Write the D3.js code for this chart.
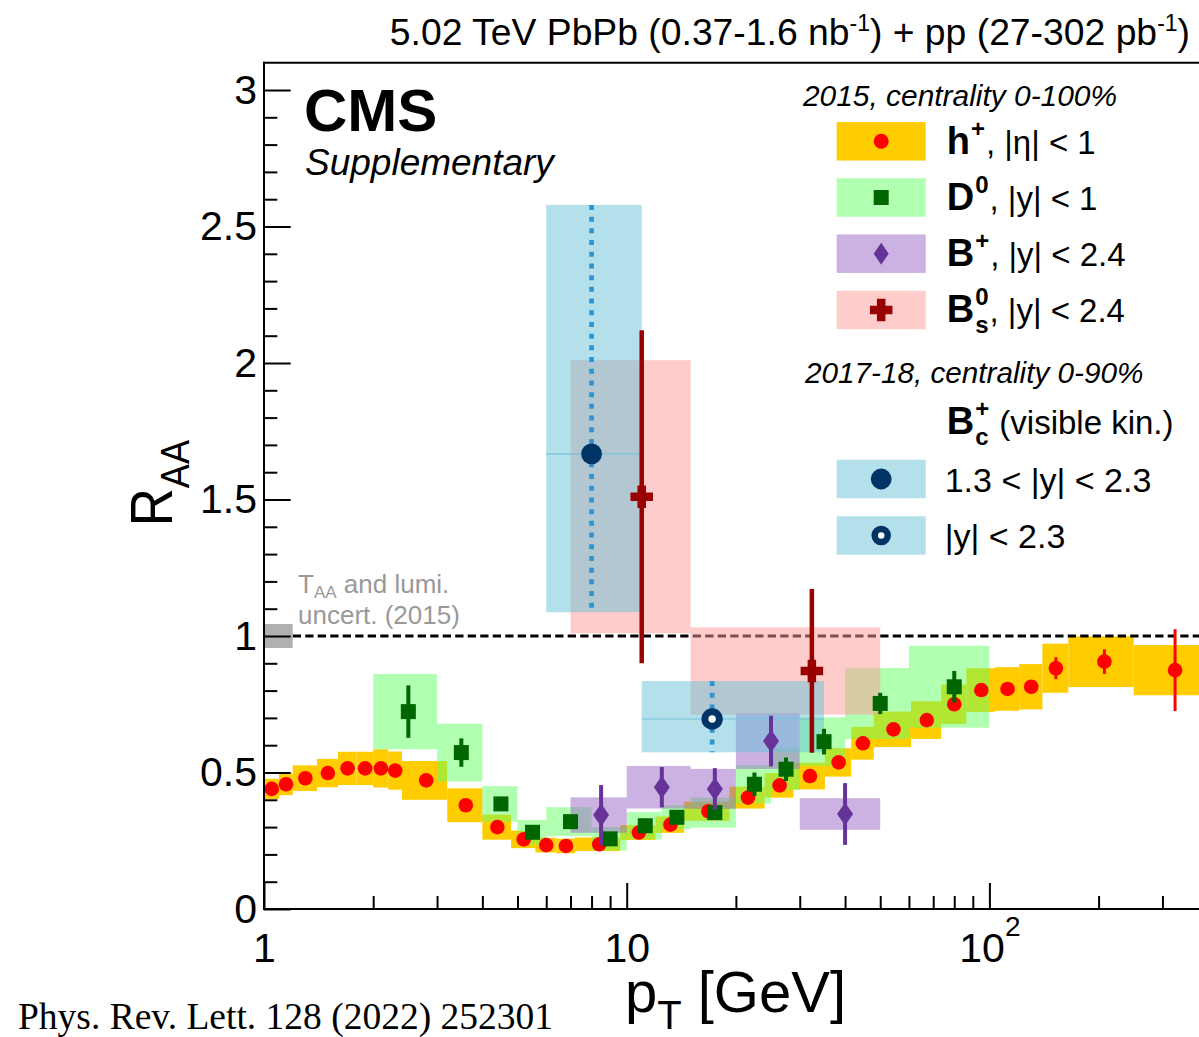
<!DOCTYPE html>
<html>
<head>
<meta charset="utf-8">
<script src="https://cdn.jsdelivr.net/npm/d3@7"></script>
<style>
  html, body { margin: 0; padding: 0; background: #fff; }
  svg { display: block; font-family: "Liberation Sans", Arial, Helvetica, sans-serif; }
  text { white-space: pre; }
</style>
</head>
<body>
<svg id="chart" width="1199" height="1037"></svg>
<script>
// ---------------- data ----------------
// Charged hadrons h+, |eta| < 1 (2015, 0-100%)
const hBinLo = [1.0, 1.1, 1.2, 1.4, 1.6, 1.8, 2.0, 2.2, 2.4, 3.2, 4.0, 4.8, 5.6, 6.4, 7.2, 9.6, 12, 14.4, 19.2, 24, 28.8, 35.2, 41.6, 48, 60.8, 73.6, 86.4, 103.6, 120.8, 140, 165, 250];
const hBinHi = [1.1, 1.2, 1.4, 1.6, 1.8, 2.0, 2.2, 2.4, 3.2, 4.0, 4.8, 5.6, 6.4, 7.2, 9.6, 12, 14.4, 19.2, 24, 28.8, 35.2, 41.6, 48, 60.8, 73.6, 86.4, 103.6, 120.8, 140, 165, 250, 400];
const hPt    = [1.05, 1.15, 1.3, 1.5, 1.7, 1.9, 2.1, 2.3, 2.8, 3.6, 4.4, 5.2, 6.0, 6.8, 8.4, 10.8, 13.2, 16.8, 21.6, 26.4, 32.0, 38.4, 44.8, 54.4, 67.2, 80.0, 95.0, 112.2, 130.4, 152.5, 207.5, 325];
const hRaa   = [0.44, 0.457, 0.479, 0.498, 0.515, 0.515, 0.515, 0.507, 0.471, 0.38, 0.30, 0.255, 0.234, 0.231, 0.237, 0.28, 0.309, 0.358, 0.408, 0.453, 0.487, 0.537, 0.607, 0.658, 0.692, 0.75, 0.802, 0.806, 0.814, 0.882, 0.906, 0.875];
const hStat  = [0.003, 0.003, 0.003, 0.003, 0.003, 0.003, 0.003, 0.003, 0.003, 0.003, 0.003, 0.003, 0.003, 0.003, 0.003, 0.004, 0.004, 0.005, 0.005, 0.006, 0.007, 0.008, 0.009, 0.01, 0.011, 0.013, 0.015, 0.018, 0.022, 0.04, 0.045, 0.15];
const hSyst  = [0.037, 0.04, 0.047, 0.052, 0.061, 0.061, 0.07, 0.07, 0.071, 0.062, 0.046, 0.032, 0.027, 0.027, 0.025, 0.027, 0.03, 0.035, 0.04, 0.045, 0.049, 0.052, 0.06, 0.065, 0.069, 0.072, 0.08, 0.08, 0.083, 0.09, 0.093, 0.092];

// D0, |y| < 1
const dBinLo = [2, 3, 4, 5, 6, 8, 10, 12.5, 15, 20, 25, 30, 40, 60];
const dBinHi = [3, 4, 5, 6, 8, 10, 12.5, 15, 20, 25, 30, 40, 60, 100];
const dPt    = [2.5, 3.5, 4.5, 5.5, 7, 9, 11.25, 13.75, 17.5, 22.5, 27.5, 35, 50, 80];
const dRaa   = [0.723, 0.573, 0.385, 0.281, 0.32, 0.257, 0.305, 0.336, 0.353, 0.457, 0.512, 0.613, 0.753, 0.814];
const dStat  = [0.096, 0.052, 0.02, 0.015, 0.015, 0.015, 0.015, 0.02, 0.02, 0.043, 0.043, 0.047, 0.039, 0.058];
const dSyst  = [0.138, 0.106, 0.065, 0.045, 0.053, 0.043, 0.05, 0.044, 0.055, 0.07, 0.076, 0.089, 0.13, 0.15];

// B+, |y| < 2.4
const bBinLo = [7, 10, 15, 20, 30];
const bBinHi = [10, 15, 20, 30, 50];
const bPt    = [8.5, 12.5, 17.5, 25, 40];
const bRaa   = [0.344, 0.446, 0.44, 0.615, 0.348];
const bStat  = [0.11, 0.074, 0.076, 0.093, 0.113];
const bSyst  = [0.065, 0.078, 0.073, 0.102, 0.058];

// Bs0, |y| < 2.4
const sBinLo = [7, 15];
const sBinHi = [15, 50];
const sPt    = [11.0, 32.4];
const sRaa   = [1.51, 0.872];
const sStat  = [0.61, 0.30];
const sSyst  = [0.5, 0.16];

// Bc+ (2017-18, 0-90%): [1.3 < |y| < 2.3, |y| < 2.3]
const cBinLo = [6, 11];
const cBinHi = [11, 35];
const cPt    = [8.0, 17.2];
const cRaa   = [1.667, 0.696];
const cErrLo = [0.58, 0.122];
const cErrHi = [0.912, 0.139];

// normalisation uncertainty (TAA and lumi, 2015)
const normLo = [1.0];
const normHi = [1.2];
const normErr = [0.044];

// axis ticks
const yMajor = [0, 0.5, 1, 1.5, 2, 2.5, 3];
const yMinor = d3.range(1, 31).map(i => i / 10).filter(v => Math.abs(v * 2 - Math.round(v * 2)) > 1e-6);
const xMajor = [1, 10, 100];
const xMinor = [2, 3, 4, 5, 6, 7, 8, 9, 20, 30, 40, 50, 60, 70, 80, 90, 200, 300];

// ---------------- layout ----------------
const svg = d3.select("#chart");
const frameLeft = 264, frameTop = 62.7, frameBottom = 909;
const decade = 362.7;
const x = d3.scaleLog().domain([1, 400]).range([frameLeft, frameLeft + decade * Math.log10(400)]);
const y = d3.scaleLinear().domain([0, 3.1]).range([frameBottom, frameBottom - 3.1 * 273]);

svg.append("defs").append("clipPath").attr("id", "plotArea")
  .append("rect").attr("x", frameLeft).attr("y", frameTop)
  .attr("width", x.range()[1] - frameLeft).attr("height", frameBottom - frameTop);

const plot = svg.append("g").attr("clip-path", "url(#plotArea)");

const style = {
  h:  { box: "#ffcc00", boxOp: 1,   mark: "#ff0000", bar: 3 },
  d:  { box: "rgb(100,255,100)", boxOp: 0.5, mark: "#006600", bar: 4 },
  b:  { box: "rgb(153,101,197)", boxOp: 0.5, mark: "#663399", bar: 4 },
  s:  { box: "rgb(255,153,153)", boxOp: 0.5, mark: "#990000", bar: 4.5 },
  c:  { box: "rgb(103,193,215)", boxOp: 0.5, mark: "#003366" }
};

function boxes(g, lo, hi, val, dn, up, fill, op) {
  g.selectAll(null).data(val).enter().append("rect")
    .attr("x", (d, i) => x(lo[i]))
    .attr("width", (d, i) => x(hi[i]) - x(lo[i]))
    .attr("y", (d, i) => y(d + up[i]))
    .attr("height", (d, i) => y(d - dn[i]) - y(d + up[i]))
    .attr("fill", fill).attr("fill-opacity", op);
}
function bars(g, pt, val, err, color, w) {
  g.selectAll(null).data(val).enter().append("line")
    .attr("x1", (d, i) => x(pt[i])).attr("x2", (d, i) => x(pt[i]))
    .attr("y1", (d, i) => y(d - err[i])).attr("y2", (d, i) => y(d + err[i]))
    .attr("stroke", color).attr("stroke-width", w);
}

// h+ systematic boxes
boxes(plot, hBinLo, hBinHi, hRaa, hSyst, hSyst, style.h.box, style.h.boxOp);

// reference line at RAA = 1
plot.append("line")
  .attr("x1", x(normHi[0])).attr("x2", x.range()[1])
  .attr("y1", y(1)).attr("y2", y(1))
  .attr("stroke", "#000").attr("stroke-width", 3).attr("stroke-dasharray", "8.3,4.2");

// normalisation box
boxes(plot, normLo, normHi, [1], normErr, normErr, "#b0b0b0", 1);

// heavy-flavour systematic boxes
boxes(plot, dBinLo, dBinHi, dRaa, dSyst, dSyst, style.d.box, style.d.boxOp);
boxes(plot, bBinLo, bBinHi, bRaa, bSyst, bSyst, style.b.box, style.b.boxOp);
boxes(plot, sBinLo, sBinHi, sRaa, sSyst, sSyst, style.s.box, style.s.boxOp);
boxes(plot, cBinLo, cBinHi, cRaa, cErrLo, cErrHi, style.c.box, style.c.boxOp);

// Bc: central line across each box and dotted uncertainty bar
plot.selectAll(null).data(cRaa).enter().append("line")
  .attr("x1", (d, i) => x(cBinLo[i])).attr("x2", (d, i) => x(cBinHi[i]))
  .attr("y1", d => y(d)).attr("y2", d => y(d))
  .attr("stroke", "rgb(120,192,214)").attr("stroke-width", 1.2);
plot.selectAll(null).data(cRaa).enter().append("line")
  .attr("x1", (d, i) => x(cPt[i])).attr("x2", (d, i) => x(cPt[i]))
  .attr("y1", (d, i) => y(d + cErrHi[i])).attr("y2", (d, i) => y(d - cErrLo[i]))
  .attr("stroke", "rgb(45,150,210)").attr("stroke-width", 4.7).attr("stroke-dasharray", "5,6.7");

// h+ markers
bars(plot, hPt, hRaa, hStat, style.h.mark, style.h.bar);
plot.selectAll(null).data(hRaa).enter().append("circle")
  .attr("cx", (d, i) => x(hPt[i])).attr("cy", d => y(d)).attr("r", 7.3)
  .attr("fill", style.h.mark);

// D0 markers
bars(plot, dPt, dRaa, dStat, style.d.mark, style.d.bar);
plot.selectAll(null).data(dRaa).enter().append("rect")
  .attr("x", (d, i) => x(dPt[i]) - 7.5).attr("y", d => y(d) - 7.5)
  .attr("width", 15).attr("height", 15).attr("fill", style.d.mark);

// marker shapes
const diamond = (w, h) => `M0,${-h / 2}L${w / 2},0L0,${h / 2}L${-w / 2},0Z`;
const plus = (s, t) => `M${-t / 2},${-s / 2}H${t / 2}V${-t / 2}H${s / 2}V${t / 2}H${t / 2}V${s / 2}H${-t / 2}V${t / 2}H${-s / 2}V${-t / 2}H${-t / 2}Z`;

// B+ markers
bars(plot, bPt, bRaa, bStat, style.b.mark, style.b.bar);
plot.selectAll(null).data(bRaa).enter().append("path")
  .attr("transform", (d, i) => `translate(${x(bPt[i])},${y(d)})`)
  .attr("d", diamond(16, 23)).attr("fill", style.b.mark);

// Bs0 markers
bars(plot, sPt, sRaa, sStat, style.s.mark, style.s.bar);
plot.selectAll(null).data(sRaa).enter().append("path")
  .attr("transform", (d, i) => `translate(${x(sPt[i])},${y(d)})`)
  .attr("d", plus(22.5, 8.5)).attr("fill", style.s.mark);

// Bc markers: filled (forward rapidity), open (full rapidity)
plot.append("circle").attr("cx", x(cPt[0])).attr("cy", y(cRaa[0])).attr("r", 10.4).attr("fill", style.c.mark);
plot.append("circle").attr("cx", x(cPt[1])).attr("cy", y(cRaa[1])).attr("r", 7.2)
  .attr("fill", "#fff").attr("stroke", style.c.mark).attr("stroke-width", 7);

// ---------------- axes ----------------
const axes = svg.append("g");
axes.append("g").attr("transform", `translate(${frameLeft},0)`)
  .call(d3.axisLeft(y).tickValues(yMajor).tickSize(-26.7).tickPadding(7).tickFormat(d => String(d)));
axes.append("g").attr("transform", `translate(${frameLeft},0)`)
  .call(d3.axisLeft(y).tickValues(yMinor).tickSize(-13.3).tickFormat(""));
const xAx = axes.append("g").attr("transform", `translate(0,${frameBottom})`)
  .call(d3.axisBottom(x).tickValues(xMajor).tickSize(-26).tickPadding(24).tickFormat(d => d === 100 ? "10" : String(d)));
axes.append("g").attr("transform", `translate(0,${frameBottom})`)
  .call(d3.axisBottom(x).tickValues(xMinor).tickSize(-13).tickFormat(""));
axes.selectAll(".domain").remove();
axes.selectAll(".tick line").attr("stroke", "#000").attr("stroke-width", 2);
axes.selectAll(".tick text").attr("font-size", 41).attr("fill", "#000")
  .attr("font-family", "Liberation Sans, Arial, sans-serif");
xAx.selectAll(".tick text").filter(d => d === 100)
  .append("tspan").attr("font-size", 28).attr("dy", "-0.95em").text("2");

// frame
axes.append("line").attr("x1", frameLeft).attr("x2", frameLeft).attr("y1", frameTop - 1).attr("y2", frameBottom + 1)
  .attr("stroke", "#000").attr("stroke-width", 2);
axes.append("line").attr("x1", frameLeft - 1).attr("x2", 1199).attr("y1", frameBottom).attr("y2", frameBottom)
  .attr("stroke", "#000").attr("stroke-width", 2);
axes.append("line").attr("x1", frameLeft - 1).attr("x2", 1199).attr("y1", frameTop).attr("y2", frameTop)
  .attr("stroke", "#000").attr("stroke-width", 2);

// axis titles
const yTitle = svg.append("text").attr("transform", "translate(171.5,440) rotate(-90) scale(0.88,1)")
  .attr("text-anchor", "end").attr("font-size", 60);
yTitle.append("tspan").text("R");
yTitle.append("tspan").attr("font-size", 41).attr("dy", 17).text("AA");

const xTitle = svg.append("text").attr("x", 846).attr("y", 1012)
  .attr("text-anchor", "end").attr("font-size", 58);
xTitle.append("tspan").text("p");
xTitle.append("tspan").attr("font-size", 40).attr("dy", 17).text("T");
xTitle.append("tspan").attr("dy", -17).text(" [GeV]");

// ---------------- annotations ----------------
const lumi = svg.append("text").attr("x", 1190).attr("y", 45)
  .attr("text-anchor", "end").attr("font-size", 37.3);
lumi.append("tspan").text("5.02 TeV PbPb (0.37-1.6 nb");
lumi.append("tspan").attr("font-size", 23).attr("dy", -14).text("-1");
lumi.append("tspan").attr("dy", 14).text(") + pp (27-302 pb");
lumi.append("tspan").attr("font-size", 23).attr("dy", -14).text("-1");
lumi.append("tspan").attr("dy", 14).text(")");

svg.append("text").attr("x", 304).attr("y", 131).attr("font-size", 60)
  .attr("font-weight", "bold").text("CMS");
svg.append("text").attr("x", 305).attr("y", 175).attr("font-size", 37)
  .attr("font-style", "italic").text("Supplementary");

const norm1 = svg.append("text").attr("x", 298).attr("y", 593).attr("font-size", 26).attr("fill", "#999");
norm1.append("tspan").text("T");
norm1.append("tspan").attr("font-size", 17).attr("dy", 5).text("AA");
norm1.append("tspan").attr("dy", -5).text(" and lumi.");
svg.append("text").attr("x", 298).attr("y", 624).attr("font-size", 26).attr("fill", "#999")
  .text("uncert. (2015)");

svg.append("text").attr("x", 18).attr("y", 1029).attr("font-size", 37.5)
  .attr("font-family", "Liberation Serif, Times New Roman, serif")
  .text("Phys. Rev. Lett. 128 (2022) 252301");

// ---------------- legend ----------------
const leg = svg.append("g");
const lgX = 836.7, lgW = 89, lgH = 38.5, txtX = 946.7;
const mainSize = 38, scriptSize = 24, restSize = 33;

function richLabel(xPos, base, main, sup, sub, rest) {
  const m = leg.append("text").attr("x", xPos).attr("y", base)
    .attr("font-size", mainSize).attr("font-weight", "bold").text(main);
  const mw = m.node().getComputedTextLength();
  let sw = 0;
  if (sup) {
    const t = leg.append("text").attr("x", xPos + mw + 1).attr("y", base - 17)
      .attr("font-size", scriptSize).attr("font-weight", "bold").text(sup);
    sw = Math.max(sw, t.node().getComputedTextLength());
  }
  if (sub) {
    const t = leg.append("text").attr("x", xPos + mw + 1).attr("y", base + 11)
      .attr("font-size", scriptSize).attr("font-weight", "bold").text(sub);
    sw = Math.max(sw, t.node().getComputedTextLength());
  }
  leg.append("text").attr("x", xPos + mw + sw + 2).attr("y", base)
    .attr("font-size", restSize).text(rest);
}
function legBox(cy, fill, op) {
  leg.append("rect").attr("x", lgX).attr("y", cy - lgH / 2).attr("width", lgW).attr("height", lgH)
    .attr("fill", fill).attr("fill-opacity", op);
}
const mx = lgX + lgW / 2;

leg.append("text").attr("x", 803).attr("y", 106).attr("font-size", 29.9)
  .attr("font-style", "italic").text("2015, centrality 0-100%");

legBox(141.3, style.h.box, style.h.boxOp);
leg.append("circle").attr("cx", mx).attr("cy", 141.3).attr("r", 7.5).attr("fill", style.h.mark);
richLabel(txtX, 154, "h", "+", null, ", |η| < 1");

legBox(197.5, style.d.box, style.d.boxOp);
leg.append("rect").attr("x", mx - 7.5).attr("y", 197.5 - 7.5).attr("width", 15).attr("height", 15).attr("fill", style.d.mark);
richLabel(txtX, 210, "D", "0", null, ", |y| < 1");

legBox(253.7, style.b.box, style.b.boxOp);
leg.append("path").attr("transform", `translate(${mx},253.7)`).attr("d", diamond(15, 22)).attr("fill", style.b.mark);
richLabel(txtX, 266, "B", "+", null, ", |y| < 2.4");

legBox(310, style.s.box, style.s.boxOp);
leg.append("path").attr("transform", `translate(${mx},310)`).attr("d", plus(22.5, 8.5)).attr("fill", style.s.mark);
richLabel(txtX, 322, "B", "0", "s", ", |y| < 2.4");

leg.append("text").attr("x", 805).attr("y", 383).attr("font-size", 29.7)
  .attr("font-style", "italic").text("2017-18, centrality 0-90%");
richLabel(txtX, 434, "B", "+", "c", " (visible kin.)");

legBox(479, style.c.box, style.c.boxOp);
leg.append("circle").attr("cx", mx).attr("cy", 479).attr("r", 10.4).attr("fill", style.c.mark);
leg.append("text").attr("x", txtX - 2).attr("y", 492).attr("font-size", 34).text("1.3 < |y| < 2.3");

legBox(535.5, style.c.box, style.c.boxOp);
leg.append("circle").attr("cx", mx).attr("cy", 535.5).attr("r", 6.5)
  .attr("fill", "#fff").attr("stroke", style.c.mark).attr("stroke-width", 6.5);
leg.append("text").attr("x", txtX - 2).attr("y", 548).attr("font-size", 34).text("|y| < 2.3");
</script>
</body>
</html>
